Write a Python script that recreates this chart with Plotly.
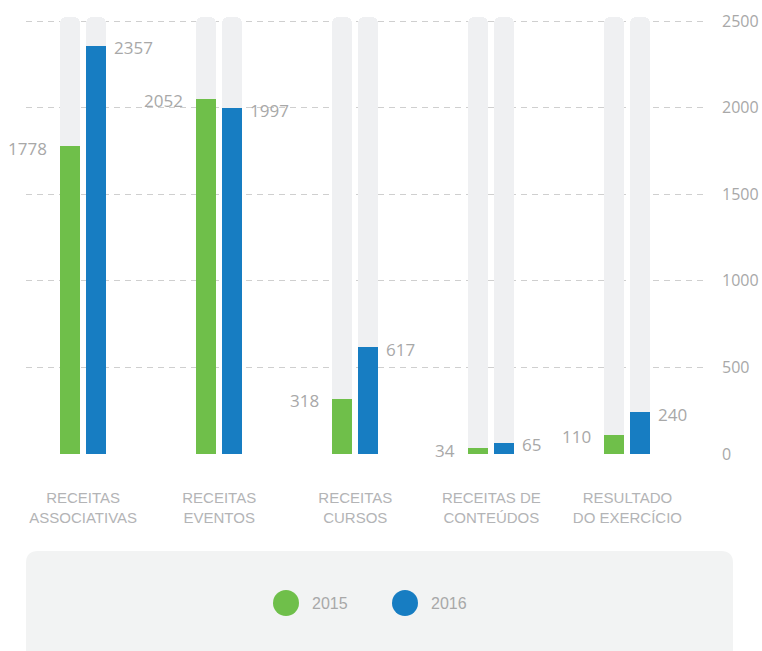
import plotly.graph_objects as go

categories = ["RECEITAS<br>ASSOCIATIVAS", "RECEITAS<br>EVENTOS", "RECEITAS<br>CURSOS",
              "RECEITAS DE<br>CONTEÚDOS", "RESULTADO<br>DO EXERCÍCIO"]
values_2015 = [1778, 2052, 318, 34, 110]
values_2016 = [2357, 1997, 617, 65, 240]
track_values = [2525, 2525, 2525, 2525, 2525]
y_tick_values = [0, 500, 1000, 1500, 2000, 2500]
series_names = ["2015", "2016"]

GREEN = "#6fbf4a"
BLUE = "#177dc2"
TRACK = "#eff0f2"
LABEL_GRAY = "#a8a8a8"
CAT_GRAY = "#b3b4b6"

W, H = 762, 651
ML, MR, MT, MB = 26, 57, 16, 197
PW, PH = W - ML - MR, H - MT - MB

def px(x):
    return (x - ML) / PW

def py(y):
    return (H - MB - y) / PH

bw = 20 / 136
off_g = -23 / 136
off_b = 3 / 136

fig = go.Figure()
for off in (off_g, off_b):
    fig.add_trace(go.Bar(x=categories, y=track_values, width=bw, offset=off,
                         marker=dict(color=TRACK, line=dict(width=0)),
                         showlegend=False, hoverinfo="skip"))
fig.add_trace(go.Bar(x=categories, y=values_2015, width=bw, offset=off_g, name=series_names[0],
                     marker=dict(color=GREEN, line=dict(width=0)), showlegend=False))
fig.add_trace(go.Bar(x=categories, y=values_2016, width=bw, offset=off_b, name=series_names[1],
                     marker=dict(color=BLUE, line=dict(width=0)), showlegend=False))

annotations = []
lab_font = dict(family="Open Sans", size=17, color=LABEL_GRAY)
for c, v in zip(categories, values_2015):
    annotations.append(dict(x=c, y=v, xref="x", yref="y", text=str(v), showarrow=False,
                            xanchor="right", yanchor="middle", xshift=-34, yshift=-2, font=lab_font))
for c, v in zip(categories, values_2016):
    annotations.append(dict(x=c, y=v, xref="x", yref="y", text=str(v), showarrow=False,
                            xanchor="left", yanchor="middle", xshift=29, yshift=-2, font=lab_font))

# legend (custom)
shapes = []
x0, x1, y0, y1, r = 26, 733, 551, 665, 12
path = (f"M {px(x0+r)},{py(y0)} L {px(x1-r)},{py(y0)} Q {px(x1)},{py(y0)} {px(x1)},{py(y0+r)} "
        f"L {px(x1)},{py(y1-r)} Q {px(x1)},{py(y1)} {px(x1-r)},{py(y1)} "
        f"L {px(x0+r)},{py(y1)} Q {px(x0)},{py(y1)} {px(x0)},{py(y1-r)} "
        f"L {px(x0)},{py(y0+r)} Q {px(x0)},{py(y0)} {px(x0+r)},{py(y0)} Z")
shapes.append(dict(type="path", xref="paper", yref="paper", path=path,
                   fillcolor="#f2f3f3", line=dict(width=0), layer="below"))
leg_font = dict(family="Liberation Sans", size=16, color=LABEL_GRAY)
for name, col, cx in zip(series_names, [GREEN, BLUE], [286, 405]):
    shapes.append(dict(type="circle", xref="paper", yref="paper",
                       x0=px(cx - 13), x1=px(cx + 13), y0=py(603 + 13), y1=py(603 - 13),
                       fillcolor=col, line=dict(width=0)))
    annotations.append(dict(x=px(cx + 24), y=py(603), xref="paper", yref="paper", text=name,
                            showarrow=False, xanchor="left", yanchor="middle", font=leg_font))

fig.update_layout(
    width=W, height=H,
    margin=dict(l=ML, r=MR, t=MT, b=MB, autoexpand=False),
    paper_bgcolor="white", plot_bgcolor="white",
    barmode="overlay", barcornerradius=6, bargap=0,
    annotations=annotations, shapes=shapes,
    showlegend=False,
    xaxis=dict(range=[-0.42, 4.57], showgrid=False, showline=False, zeroline=False,
               ticks="", ticklabelstandoff=33,
               tickfont=dict(family="Liberation Sans", size=15, color=CAT_GRAY)),
    yaxis=dict(range=[0, 2530], side="right", tickvals=y_tick_values,
               showgrid=True, gridcolor="#cfcfcf", griddash="6px,5px", gridwidth=1,
               zeroline=False, showline=False, ticks="", ticklabelstandoff=16,
               tickfont=dict(family="Open Sans", size=16, color=LABEL_GRAY)),
)

fig.write_html("out.html", config={"displayModeBar": False},
               post_script="document.body.style.margin='0';document.body.style.overflow='hidden';")
